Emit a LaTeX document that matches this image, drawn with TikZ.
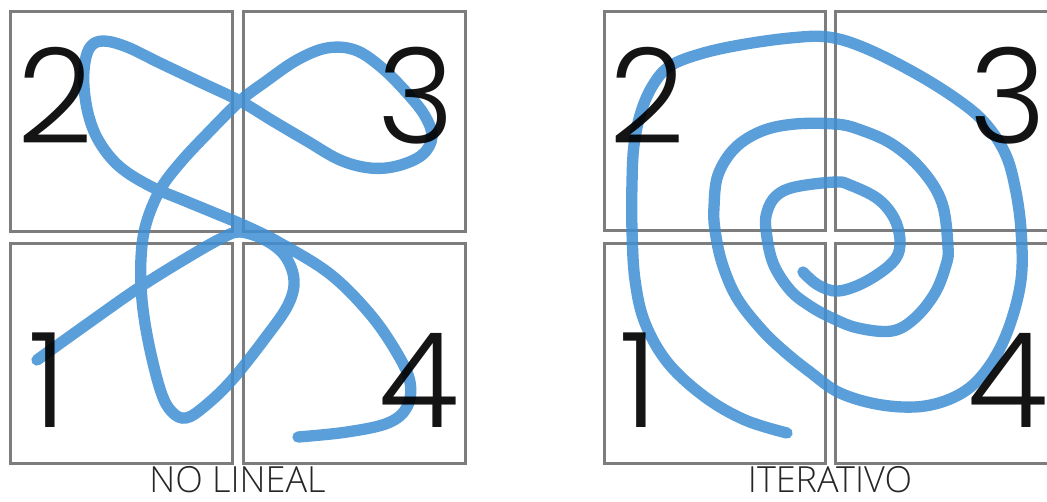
\documentclass[tikz,border=0pt]{standalone}
\usepackage{fontspec}
\IfFontExistsTF{Poppins Light}{\newfontfamily\digitfont{Poppins Light}}{\newfontfamily\digitfont{Poppins}}
\IfFontExistsTF{Open Sans Light}{\newfontfamily\labelfont{Open Sans Light}}{\newfontfamily\labelfont{Open Sans}}
\definecolor{boxgray}{RGB}{125,125,125}
\definecolor{lineblue}{RGB}{62,142,212}
\tikzset{
  quad/.style={draw=boxgray, line width=2.25pt},
  curve/.style={draw=lineblue, line width=8.5pt, line cap=round, line join=round, opacity=0.85},
  digit/.style={inner sep=0pt, anchor=base, font=\digitfont\fontsize{99}{99}\selectfont, text opacity=0.92},
  caption/.style={inner sep=0pt, anchor=base, font=\labelfont\fontsize{27}{27}\selectfont, text=black!85}
}
\begin{document}
\begin{tikzpicture}[x=0.75pt,y=-0.75pt]
\useasboundingbox (0,0) rectangle (1047,501);
\clip (0,0) rectangle (1047,501);
\fill[white] (0,0) rectangle (1047,501);
% left panel boxes
\draw[quad] (10,11) rectangle (232,231);
\draw[quad] (243,11) rectangle (465,231);
\draw[quad] (10,243) rectangle (232,463);
\draw[quad] (243,243) rectangle (465,463);
% right panel boxes
\draw[quad] (604,11) rectangle (825,230);
\draw[quad] (835,11) rectangle (1057,230);
\draw[quad] (604,243) rectangle (825,463);
\draw[quad] (835,243) rectangle (1057,463);
% left curve
\draw[curve] plot[smooth, tension=0.6] coordinates {
(37,360) (90,322) (140,287) (190,256) (222,238) (240,232) (265,240) (285,256) (294,280) (288,305) (266,337) (232,380) (205,406) (186,418) (172,412) (161,392) (149,345) (142,300) (141,258) (146,224) (160,190) (180,163) (207,134) (240,101) (265,82) (297,60) (327,48) (355,50) (381,67) (407,93) (425,116) (432,137) (422,155) (397,166) (370,168) (340,160) (307,141) (273,121) (240,101) (200,82) (160,63) (127,47) (104,41) (91,46) (85,62) (84,87) (89,117) (100,143) (120,167) (150,186) (183,200) (217,214) (248,227) (280,243) (330,274) (370,314) (397,353) (410,382) (407,407) (388,423) (347,432) (298,437)};
% right spiral
\draw[curve] plot[smooth, tension=0.6] coordinates {
(787,433) (745,420) (705,397) (668,363) (645,323) (635,280) (632,230) (632,183) (634,145) (641,112) (653,85) (670,66) (700,54) (740,45) (790,38) (828,37) (865,48) (915,73) (958,100) (985,123) (1005,153) (1015,187) (1021,230) (1021,280) (1008,330) (988,368) (962,393) (925,406) (882,405) (840,393) (810,372) (785,352) (762,330) (737,298) (722,263) (715,230) (714,207) (718,175) (735,148) (762,131) (795,124) (835,124) (858,129) (892,144) (922,170) (942,203) (948,247) (946,265) (935,293) (915,318) (892,331) (858,328) (832,318) (810,306) (790,290) (773,263) (766,230) (767,212) (776,196) (795,187) (835,182) (850,185) (878,199) (895,220) (900,245) (892,263) (865,282) (838,291) (818,285) (803,272)};
% digits
\node[digit] (l2) at (55,143) {2};
\node[digit] (l3) at (416,143) {3};
\node[digit] (l1) at (48,427) {1};
\node[digit] (l4) at (419,427) {4};
\node[digit] (r2) at (647,143) {2};
\node[digit] (r3) at (1008,143) {3};
\node[digit] (r1) at (639,427) {1};
\node[digit] (r4) at (1008,427) {4};
% captions
\node[caption] (capl) at (237.5,492) {NO LINEAL};
\node[caption] (capr) at (830,492) {ITERATIVO};
\end{tikzpicture}
\end{document}
